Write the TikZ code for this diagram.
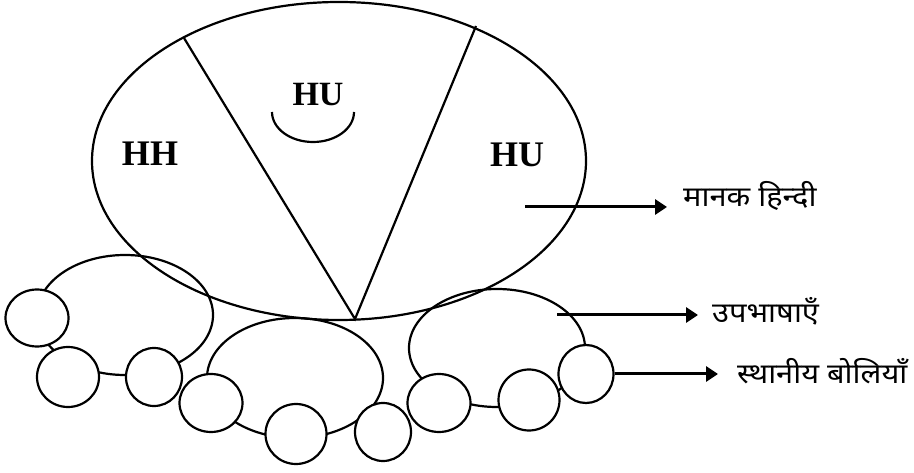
\documentclass[tikz,border=0pt]{standalone}
\usepackage{fontspec}
\setmainfont{Liberation Serif}
\newfontfamily\devfont[Script=Devanagari,FakeStretch=1.1]{Noto Sans}
\usetikzlibrary{shapes.geometric,arrows.meta}
\begin{document}
\begin{tikzpicture}[x=1pt,y=-1pt,
  bigell/.style={ellipse,draw,line width=2.2pt,inner sep=0pt},
  subell/.style={ellipse,draw,line width=2.2pt,inner sep=0pt,minimum width=176pt,minimum height=120pt},
  dot/.style={ellipse,draw,fill=white,line width=2.2pt,inner sep=0pt},
  lbl/.style={font=\bfseries\fontsize{36}{36}\selectfont,inner sep=0pt},
  dev/.style={font=\devfont\fontsize{28}{28}\selectfont,inner sep=0pt,anchor=base west},
  arr/.style={line width=3pt,-{Triangle[length=12pt,width=15pt]}}]
\useasboundingbox (0,0) rectangle (914,473);
% main ellipse
\node[bigell,minimum width=494pt,minimum height=318pt] (big) at (339,161) {};
\coordinate (apex) at (355,319);
\coordinate (tl) at (184,38);
\coordinate (tr) at (476,26);
\draw[line width=2.2pt] (tl) -- (apex) -- (tr);
\node[lbl] (hh) at (150,154) {HH};
\node[lbl,font=\bfseries\fontsize{34}{34}\selectfont] (hum) at (318,95) {HU};
\node[lbl] (hur) at (517,155) {HU};
\draw[line width=2.2pt] (272,112) arc[start angle=180,end angle=360,x radius=41pt,y radius=30pt];
% sub-dialect ellipses
\node[subell] (e1) at (125,315) {};
\node[subell] (e2) at (295,378) {};
\node[subell,minimum height=118pt] (e3) at (497,348) {};
% local dialect circles
\node[dot,minimum width=63pt,minimum height=57pt] (c1) at (37,318) {};
\node[dot,minimum width=62pt,minimum height=60pt] (c2) at (68,377) {};
\node[dot,minimum width=56pt,minimum height=58pt] (c3) at (154,377) {};
\node[dot,minimum width=63pt,minimum height=58pt] (c4) at (211,403) {};
\node[dot,minimum width=61pt,minimum height=60pt] (c5) at (296,434) {};
\node[dot,minimum width=56pt,minimum height=58pt] (c6) at (383,432) {};
\node[dot,minimum width=63pt,minimum height=58pt] (c7) at (439,403) {};
\node[dot,minimum width=61pt,minimum height=61pt] (c8) at (529,400) {};
\node[dot,minimum width=55pt,minimum height=58pt] (c9) at (586,374) {};
% labels
\node[dev] (l1) at (683,207) {मानक हिन्दी};
\node[dev] (l2) at (712,323) {उपभाषाएँ};
\node[dev] (l3) at (737,384) {स्थानीय बोलियाँ};
\coordinate (a1) at (525,207);
\coordinate (a2) at (557,315);
\draw[arr,shorten >=16pt] (a1) -- (a1 -| l1.west);
\draw[arr,shorten >=14pt] (a2) -- (a2 -| l2.west);
\draw[arr,shorten >=19pt] (c9.east) -- (c9.east -| l3.west);
\end{tikzpicture}
\end{document}
